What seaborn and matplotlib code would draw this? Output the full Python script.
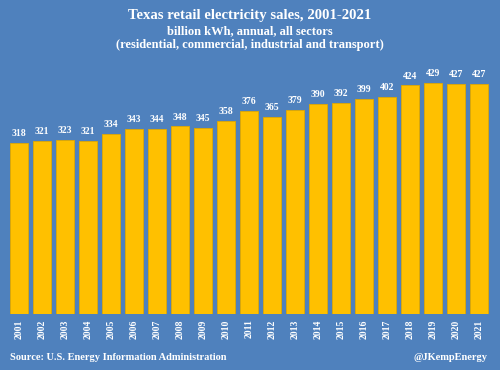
import matplotlib
matplotlib.use("Agg")
import matplotlib.pyplot as plt
import seaborn as sns
import pandas as pd

years = [str(y) for y in range(2001, 2022)]
sales = [318, 321, 323, 321, 334, 343, 344, 348, 345, 358, 376, 365, 379, 390, 392, 399, 402, 424, 429, 427, 427]

title = "Texas retail electricity sales, 2001-2021"
subtitle1 = "billion kWh, annual, all sectors"
subtitle2 = "(residential, commercial, industrial and transport)"
source = "Source: U.S. Energy Information Administration"
handle = "@JKempEnergy"

bg = "#4F81BD"
bar_color = "#FFC000"

sns.set_theme(style="white")
plt.rcParams["font.family"] = ["Liberation Serif", "DejaVu Serif"]

df = pd.DataFrame({"year": years, "sales": sales})

fig = plt.figure(figsize=(5, 3.7), dpi=100, facecolor=bg)
ax = fig.add_axes([7.25 / 500, 1 - 314 / 370, (490.75 - 7.25) / 500, (314 - 72) / 370])
ax.set_facecolor(bg)

sns.barplot(data=df, x="year", y="sales", color=bar_color, width=0.76,
            edgecolor="#E0A800", linewidth=0.6, saturation=1, ax=ax)
ax.set_ylim(0, 449)
ax.set_xlim(-0.5, len(years) - 0.5)
for s in ax.spines.values():
    s.set_visible(False)
ax.set_yticks([])
ax.set_xlabel("")
ax.set_ylabel("")
ax.tick_params(axis="x", length=0, pad=4, labelsize=7, labelcolor="white")
for lab in ax.get_xticklabels():
    lab.set_rotation(90)
    lab.set_fontweight("bold")

for i, v in enumerate(sales):
    ax.annotate(str(v), (i, v), xytext=(0, 3.5), textcoords="offset points",
                ha="center", va="bottom", fontsize=7, fontweight="bold", color="white")

fig.text(0.5, 1 - 15 / 370, title, ha="center", va="center", fontsize=10.6,
         fontweight="bold", color="white")
fig.text(0.5, 1 - 31 / 370, subtitle1, ha="center", va="center", fontsize=9,
         fontweight="bold", color="white")
fig.text(0.5, 1 - 45 / 370, subtitle2, ha="center", va="center", fontsize=9,
         fontweight="bold", color="white")
fig.text(10 / 500, 1 - 357 / 370, source, ha="left", va="center", fontsize=7.5,
         fontweight="bold", color="white")
fig.text(488 / 500, 1 - 357 / 370, handle, ha="right", va="center", fontsize=7.5,
         fontweight="bold", color="white")

fig.savefig("out.png", dpi=100, facecolor=bg)
